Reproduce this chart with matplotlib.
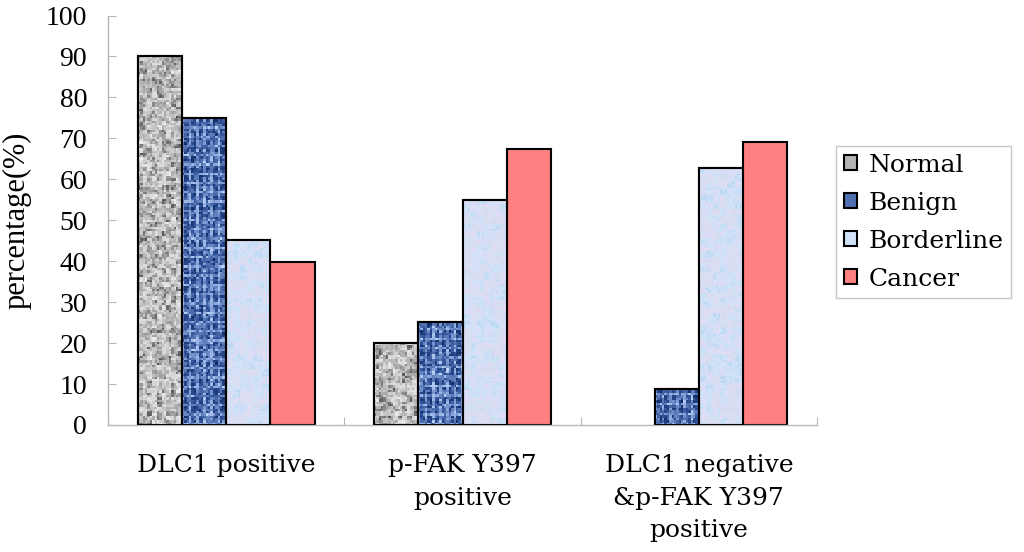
import numpy as np
import matplotlib
matplotlib.use("Agg")
import matplotlib.pyplot as plt
from matplotlib.colors import LinearSegmentedColormap

categories = ["DLC1 positive", "p-FAK Y397\npositive", "DLC1 negative\n&p-FAK Y397\npositive"]
series = ["Normal", "Benign", "Borderline", "Cancer"]
normal = [90.0, 20.0, 0.0]
benign = [75.0, 25.2, 8.8]
borderline = [45.2, 55.0, 62.8]
cancer = [39.7, 67.4, 69.0]
values = [normal, benign, borderline, cancer]
yticks = [0, 10, 20, 30, 40, 50, 60, 70, 80, 90, 100]

mean_colors = ["#b4b4b4", "#4f6fb0", "#d2e2f6", "#ff8080"]

def hashnoise(i, j, seed):
    v = np.sin(i * 12.9898 + j * 78.233 + seed * 37.719) * 43758.5453
    return v - np.floor(v)

def texture(kind, ny, nx, seed):
    j, i = np.meshgrid(np.arange(nx), np.arange(ny))
    n = hashnoise(i, j, seed)
    n2 = hashnoise(i // 2, j // 2, seed + 5)
    if kind == 0:
        cmap = LinearSegmentedColormap.from_list("g", ["#505050", "#a4a4a4", "#d4d4d4", "#efefef"])
        v = 0.5 * n + 0.5 * n2
        return cmap(v)
    if kind == 1:
        cmap = LinearSegmentedColormap.from_list("b", ["#102a62", "#2a4c92", "#7896d0", "#c4d8fc"])
        grid = (((i % 4) == 0) | ((j % 3) == 0)).astype(float)
        v = 0.5 * n + 0.2 * n2 + 0.3 * grid
        return cmap(np.clip(v, 0, 1))
    cmap = LinearSegmentedColormap.from_list("l", ["#bad6f4", "#cfe3f8", "#e0dcf2", "#c6dcf4"])
    v = 0.4 * n + 0.6 * hashnoise(i // 3, j // 3, seed + 9)
    return cmap(v)

fig = plt.figure(figsize=(10.24, 5.52), dpi=100)
ax = fig.add_axes([108 / 1024, 1 - 425 / 552, (817 - 108) / 1024, (425 - 15.5) / 552])

x = np.arange(len(categories)) + 0.5
width = 0.1875
offsets = (np.arange(4) - 1.5) * width

for k, (name, vals) in enumerate(zip(series, values)):
    bars = ax.bar(x + offsets[k], vals, width, color=mean_colors[k], edgecolor="black",
                  linewidth=1.5, zorder=2, label=name)
    for b in bars:
        if b.get_height() <= 0:
            b.set_visible(False)
    if k < 3:
        for r, b in enumerate(bars):
            h = b.get_height()
            if h <= 0:
                continue
            ny = max(2, int(h * 4.1 / 2.3))
            nx = 19
            tex = texture(k, ny, nx, k * 10 + r)
            im = ax.imshow(tex, extent=[b.get_x(), b.get_x() + b.get_width(), 0, h],
                           aspect="auto", interpolation="nearest", zorder=2.5, origin="lower")
            im.set_clip_path(b)
        outl = ax.bar(x + offsets[k], vals, width, fill=False, edgecolor="black", linewidth=1.5, zorder=3)
        for b in outl:
            if b.get_height() <= 0:
                b.set_visible(False)

ax.set_xlim(0, 3)
ax.set_ylim(0, 100)
ax.set_aspect("auto")

for s in ["top", "right"]:
    ax.spines[s].set_visible(False)
for s in ["left", "bottom"]:
    ax.spines[s].set_color("#b8b8b8")
    ax.spines[s].set_linewidth(1.0)

ax.set_yticks(yticks)
ax.set_yticklabels([str(t) for t in yticks], fontfamily="Liberation Serif", fontsize=20)
ax.tick_params(axis="y", direction="in", length=6, color="#b8b8b8", pad=15)

ax.set_xticks([0, 1, 2, 3])
ax.set_xticklabels([])
ax.tick_params(axis="x", direction="in", length=6, color="#b8b8b8")
for xc, lab in zip(x, categories):
    ax.text(xc, -7.0, lab, ha="center", va="top", fontfamily="DejaVu Serif", fontsize=18,
            linespacing=1.55, transform=ax.transData, clip_on=False)

ax.set_ylabel("percentage(%)", fontfamily="Liberation Serif", fontsize=22, labelpad=10)

handles, labels = ax.get_legend_handles_labels()
leg = fig.legend(handles, labels, loc="upper left", bbox_to_anchor=(836 / 1024, 1 - 146 / 552),
                 borderaxespad=0, frameon=True, fancybox=False, edgecolor="#b8b8b8",
                 prop={"family": "DejaVu Serif", "size": 18}, handlelength=0.55, handleheight=0.55,
                 handletextpad=0.45, labelspacing=0.6, borderpad=0.3)
leg.get_frame().set_linewidth(1.0)

fig.savefig("out.png", dpi=100)
